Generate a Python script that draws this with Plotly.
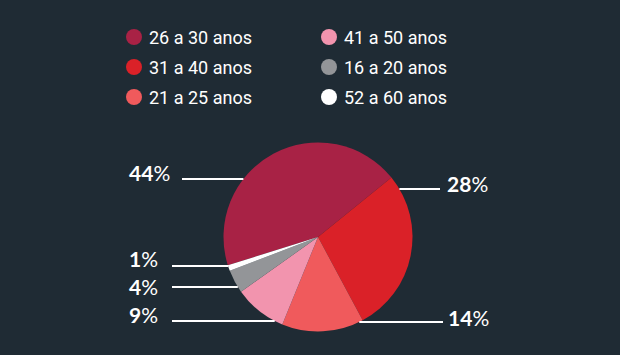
import plotly.graph_objects as go
import math

# ---- data ----
categories = ["26 a 30 anos", "31 a 40 anos", "21 a 25 anos", "41 a 50 anos", "16 a 20 anos", "52 a 60 anos"]
values = [44, 28, 14, 9, 4, 1]
colors = ["#a82245", "#da2128", "#f05a5c", "#f294ae", "#939598", "#ffffff"]

# legend layout: order in two columns
legend_order = ["26 a 30 anos", "31 a 40 anos", "21 a 25 anos", "41 a 50 anos", "16 a 20 anos", "52 a 60 anos"]

# ---- layout constants (pixels) ----
W, H = 620, 355
BG = "#1f2b34"
cx, cy, R = 318, 237, 94.5
start_angle = 252.6  # clockwise from 12 o'clock, first slice

# label leader lines: y of line, side, outer x, text position
label_cfg = {
    "26 a 30 anos": dict(y=179, side="left", outer=182, text_x=127, text_y=172),
    "31 a 40 anos": dict(y=189, side="right", outer=440, text_x=445, text_y=183),
    "21 a 25 anos": dict(y=322, side="right", outer=443, text_x=446, text_y=317),
    "41 a 50 anos": dict(y=321, side="left", outer=172, text_x=127, text_y=314),
    "16 a 20 anos": dict(y=287, side="left", outer=172, text_x=127, text_y=286),
    "52 a 60 anos": dict(y=266, side="left", outer=172, text_x=127, text_y=258),
}

fig = go.Figure()

fig.add_trace(go.Pie(
    labels=categories,
    values=values,
    marker=dict(colors=colors, line=dict(width=0)),
    sort=False,
    direction="clockwise",
    rotation=start_angle,
    textinfo="none",
    hoverinfo="label+percent",
    showlegend=False,
    domain=dict(x=[(cx - R) / W, (cx + R) / W], y=[(H - cy - R) / H, (H - cy + R) / H]),
))

shapes = []
annotations = []

# leader lines and percent labels
for cat, val in zip(categories, values):
    cfg = label_cfg[cat]
    dy = cfg["y"] - cy
    dx = math.sqrt(max(R * R - dy * dy, 0))
    inner = cx - dx if cfg["side"] == "left" else cx + dx
    shapes.append(dict(type="line", xref="x", yref="y",
                       x0=cfg["outer"], x1=inner, y0=cfg["y"], y1=cfg["y"],
                       line=dict(color="white", width=2)))
    annotations.append(dict(x=cfg["text_x"], y=cfg["text_y"], xref="x", yref="y",
                            text=f"<b>{val}</b>%", showarrow=False,
                            xanchor="left", yanchor="middle",
                            font=dict(family="Lato", size=21, color="white")))

# custom legend in two columns
col_x = [134, 329]
row_y = [37, 67, 97]
color_of = dict(zip(categories, colors))
for i, cat in enumerate(legend_order):
    col, row = divmod(i, 3)
    x, y = col_x[col], row_y[row]
    shapes.append(dict(type="circle", xref="x", yref="y",
                       x0=x - 8, x1=x + 8, y0=y - 8, y1=y + 8,
                       fillcolor=color_of[cat], line=dict(width=0)))
    annotations.append(dict(x=x + 13, y=y, xref="x", yref="y", text=cat,
                            showarrow=False, xanchor="left", yanchor="middle",
                            font=dict(family="Roboto", size=18, color="white")))

fig.update_layout(
    width=W, height=H,
    margin=dict(l=0, r=0, t=0, b=0),
    paper_bgcolor=BG, plot_bgcolor="rgba(0,0,0,0)",
    xaxis=dict(range=[0, W], visible=False, fixedrange=True, domain=[0, 1]),
    yaxis=dict(range=[H, 0], visible=False, fixedrange=True, domain=[0, 1]),
    shapes=shapes,
    annotations=annotations,
    showlegend=False,
)

fig.write_html("out.html")
